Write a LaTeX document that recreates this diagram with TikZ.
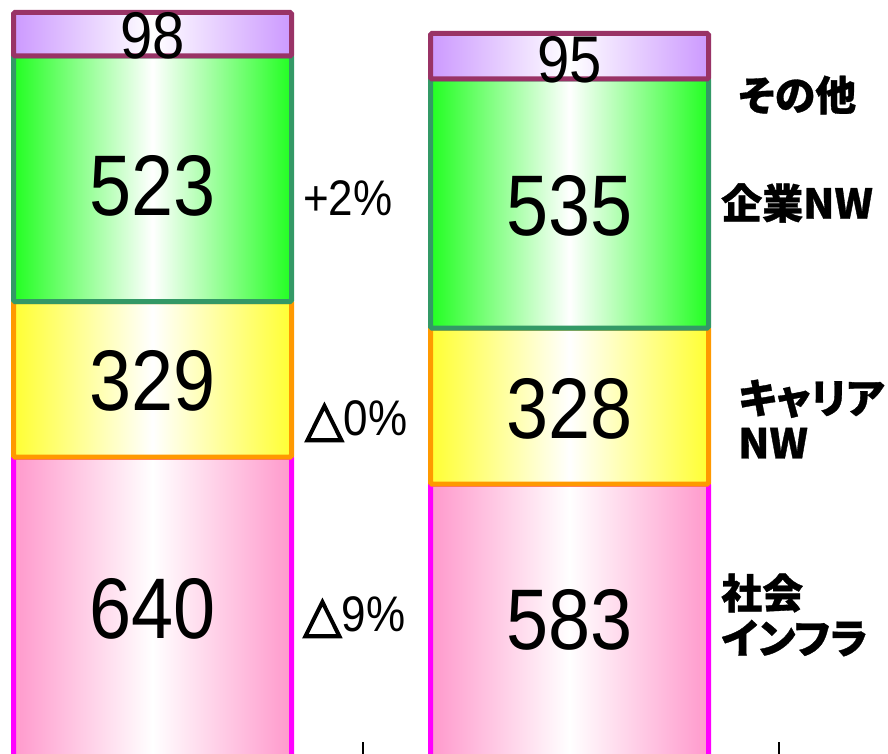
\documentclass[tikz,border=0pt]{standalone}
\usepackage{fontspec}
\usepackage{tkz-euclide}
\setmainfont{Liberation Sans}
\newfontfamily\numfont[FakeStretch=0.88]{Liberation Sans}
\newfontfamily\jpfont[RawFeature=+palt, FakeBold=0.8]{Noto Sans CJK JP}
\newfontfamily\symfont[FakeBold=3]{DejaVu Sans}

\definecolor{othfill}{HTML}{CC99FF}
\definecolor{othline}{HTML}{993366}
\definecolor{corpfill}{HTML}{22FF22}
\definecolor{corpline}{HTML}{339966}
\definecolor{carrfill}{HTML}{FFFF33}
\definecolor{carrline}{HTML}{FF9900}
\definecolor{infrafill}{HTML}{FF99CC}
\definecolor{infraline}{HTML}{FF00FF}

\tikzset{
  seg/.style 2 args={draw=#2, line width=5pt, rounded corners=1.5pt,
    left color=#1, right color=#1, middle color=white},
  bignum/.style={font=\numfont\fontsize{86}{86}\selectfont, inner sep=0pt},
  smallnum/.style={font=\numfont\fontsize{66}{66}\selectfont, inner sep=0pt},
  pct/.style={font=\numfont\fontsize{50}{50}\selectfont, inner sep=0pt, anchor=west},
  cat/.style={font=\jpfont\bfseries\fontsize{41}{45}\selectfont, inner sep=0pt,
    anchor=west, align=left}
}
\newcommand{\tri}{{\symfont\fontsize{50}{50}\selectfont △}}

\begin{document}
\begin{tikzpicture}[x=1pt, y=-1pt]
\useasboundingbox (0,0) rectangle (888,754);
\clip (0,0) rectangle (888,754);
% left bar
\tkzDefPoints{13.5/12.5/A1, 291.5/56/B1, 13.5/301.5/C1, 291.5/457/D1, 13.5/760/E1}
% right bar
\tkzDefPoints{430.5/33.5/A2, 708.5/79/B2, 430.5/328/C2, 708.5/484/D2, 430.5/760/E2}

\shade[seg={infrafill}{infraline}] (D1) rectangle (E1);
\shade[seg={carrfill}{carrline}] (C1) rectangle (D1);
\shade[seg={corpfill}{corpline}] (B1) rectangle (C1);
\shade[seg={othfill}{othline}] (A1) rectangle (B1);

\shade[seg={infrafill}{infraline}] (D2) rectangle (E2);
\shade[seg={carrfill}{carrline}] (C2) rectangle (D2);
\shade[seg={corpfill}{corpline}] (B2) rectangle (C2);
\shade[seg={othfill}{othline}] (A2) rectangle (B2);

\node[smallnum] (n98) at (152.5,36) {98};
\node[bignum] (n523) at (152.5,186) {523};
\node[bignum] (n329) at (152.5,381) {329};
\node[bignum] (n640) at (152.5,609) {640};

\node[smallnum] (n95) at (569.5,60) {95};
\node[bignum] (n535) at (569.5,206) {535};
\node[bignum] (n328) at (569.5,409) {328};
\node[bignum] (n583) at (569.5,620) {583};

\node[pct] (pCorp) at (303,198) {+2\%};
\node[pct] (pCarr) at (305,421) {\tri0\%};
\node[pct] (pInfra) at (303,617) {\tri9\%};

\node[cat] (lOther) at (738,95) {その他};
\node[cat] (lCorp) at (721,203) {企業NW};
\node[cat] (lCarr) at (738,419) {キャリア\\NW};
\node[cat] (lInfra) at (721,615) {社会\\インフラ};

% axis ticks
\coordinate (t1) at (363,742);
\coordinate (t2) at (779,742);
\draw[line width=1.2pt] (t1) -- ++(0,14);
\draw[line width=1.2pt] (t2) -- ++(0,14);
\end{tikzpicture}
\end{document}
